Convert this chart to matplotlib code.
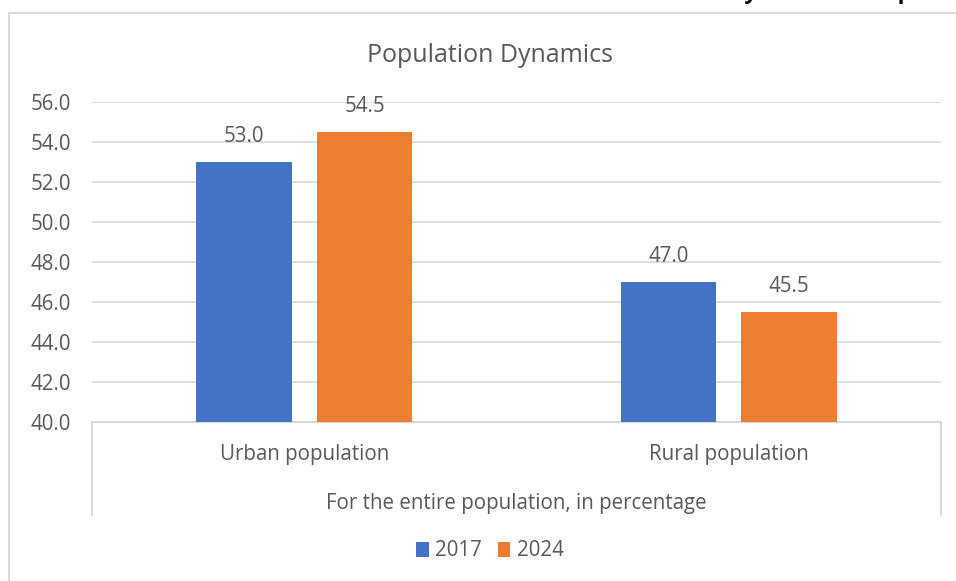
import matplotlib.pyplot as plt
from matplotlib.patches import Rectangle
import numpy as np

plt.rcParams['font.family'] = ['Open Sans', 'DejaVu Sans']

# data
categories = ['Urban population', 'Rural population']
years = ['2017', '2024']
values_2017 = [53.0, 47.0]
values_2024 = [54.5, 45.5]
group_label = 'For the entire population, in percentage'
title = 'Population Dynamics'

BLUE = '#4472C4'
ORANGE = '#ED7D31'
TEXT = '#595959'
GRID = '#D9D9D9'
FS = 14.8

fig = plt.figure(figsize=(9.56, 5.81), dpi=100)
ax = fig.add_axes([92 / 956, 1 - 422 / 581, 849 / 956, 320 / 581])

# outer chart frame (cut off at right/bottom like the screenshot)
fig.patches.append(Rectangle((9 / 956, -0.2), 1.2, 1.2 - 13 / 581,
                             transform=fig.transFigure, fill=False,
                             edgecolor=GRID, linewidth=1.5))

# clipped heading at very top
fig.text(728 / 956, 1 + 1 / 581, 'Dynamics of Population', fontsize=16,
         fontweight='bold', color='black', va='baseline', ha='left')

x = np.arange(len(categories))
w = 0.224
off = 0.142
b1 = ax.bar(x - off, values_2017, w, color=BLUE, label=years[0], zorder=3)
b2 = ax.bar(x + off, values_2024, w, color=ORANGE, label=years[1], zorder=3)

for bars in (b1, b2):
    for r in bars:
        h = r.get_height()
        ax.annotate(f'{h:.1f}', (r.get_x() + r.get_width() / 2, h),
                    xytext=(0, 18), textcoords='offset points',
                    ha='center', va='center', fontsize=FS, color=TEXT)

ax.set_xlim(-0.5, 1.5)
ax.set_ylim(40, 56)
ax.set_yticks(np.arange(40, 57, 2))
ax.set_yticklabels([f'{v:.1f}' for v in np.arange(40, 57, 2)])
ax.yaxis.grid(True, color=GRID, linewidth=1.2, zorder=0)
ax.tick_params(axis='y', length=0, labelsize=FS, labelcolor=TEXT, pad=15)
ax.set_xticks(x)
ax.set_xticklabels(categories)
ax.tick_params(axis='x', length=0, labelsize=FS, labelcolor=TEXT, pad=16)

for s in ['top', 'right', 'left']:
    ax.spines[s].set_visible(False)
ax.spines['bottom'].set_color(GRID)
ax.spines['bottom'].set_linewidth(1.5)

# multi-level category axis lines
depth = -93 / 320
for xx in (0, 1):
    ax.plot([xx, xx], [0, depth], transform=ax.transAxes, color=GRID,
            linewidth=1.5, clip_on=False)
ax.text(0.5, -81 / 320, group_label, transform=ax.transAxes, ha='center',
        va='center', fontsize=FS, color=TEXT)

fig.text(490 / 956, 1 - 56 / 581, title, ha='center', va='center',
         fontsize=18, color=TEXT)

fig.legend(handles=[b1, b2], labels=years, loc='center',
           bbox_to_anchor=(490 / 956, 1 - 551 / 581), ncol=2, frameon=False,
           fontsize=FS, labelcolor=TEXT, handlelength=0.6, handleheight=0.7,
           handletextpad=0.3, columnspacing=0.8)

fig.savefig('out.png', dpi=100)
